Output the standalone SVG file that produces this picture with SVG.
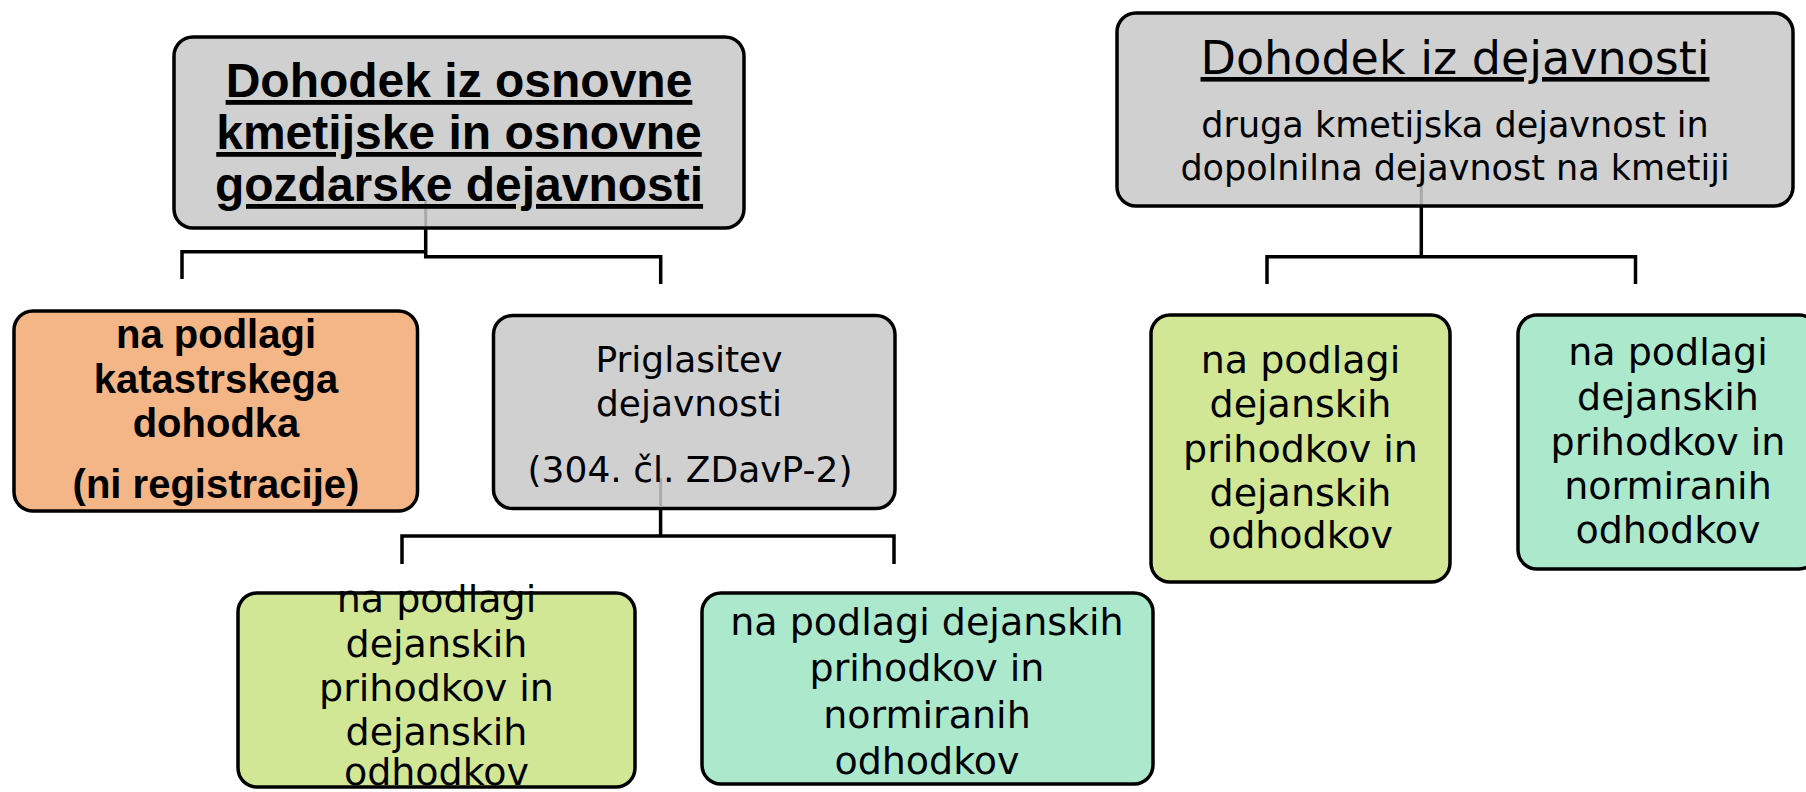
<svg xmlns="http://www.w3.org/2000/svg" width="1806" height="792" viewBox="0 0 1806 792">
<style>
.box{stroke:#000;stroke-width:3.5}
.gray{fill:#d0d0d0}
.orange{fill:#f4b686}
.lime{fill:#d2e796}
.mint{fill:#ace8cc}
.t{font-family:"DejaVu Sans","Liberation Sans",sans-serif;fill:#000;text-anchor:middle}
.b{font-family:"Liberation Sans",Arial,sans-serif;font-weight:bold;fill:#000;text-anchor:middle}
.conn{fill:none;stroke:#000;stroke-width:3.5}
.ghost{fill:none;stroke:#a9a9a9;stroke-width:3}
</style>
<rect width="1806" height="792" fill="#fff"/>
<g id="connectors">
<path class="conn" d="M182,279 V251.7 H425.7"/>
<path class="conn" d="M425.7,228 V256.7 H660.7 V284"/>
<path class="conn" d="M1421.3,206 V256.7"/>
<path class="conn" d="M1267,284 V256.7 H1635.5 V284"/>
<path class="conn" d="M660.6,509 V536"/>
<path class="conn" d="M402,564 V536 H894 V564"/>
</g>
<g id="n-osnovna">
<rect class="box gray" x="174" y="37" width="570" height="191" rx="19"/>
<line class="ghost" x1="425.7" y1="200" x2="425.7" y2="226"/>
<text class="b" font-size="48" text-decoration="underline"><tspan x="459" y="97">Dohodek iz osnovne</tspan><tspan x="459" y="149">kmetijske in osnovne</tspan><tspan x="459" y="201">gozdarske dejavnosti</tspan></text>
</g>
<g id="n-kataster">
<rect class="box orange" x="14" y="311" width="403.5" height="200" rx="19"/>
<text class="b" font-size="40"><tspan x="216" y="348">na podlagi</tspan><tspan x="216" y="393">katastrskega</tspan><tspan x="216" y="437">dohodka</tspan><tspan x="216" y="498">(ni registracije)</tspan></text>
</g>
<g id="n-priglasitev">
<rect class="box gray" x="493.5" y="315.5" width="401.5" height="193" rx="19"/>
<line class="ghost" x1="660.6" y1="478" x2="660.6" y2="507"/>
<text class="t" font-size="36"><tspan x="689" y="372">Priglasitev</tspan><tspan x="689" y="416">dejavnosti</tspan><tspan x="690" y="482">(304. čl. ZDavP-2)</tspan></text>
</g>
<g id="n-dejanski-1">
<rect class="box lime" x="238" y="593" width="397" height="194" rx="19"/>
<text class="t" font-size="38"><tspan x="436.5" y="612">na podlagi</tspan><tspan x="436.5" y="657">dejanskih</tspan><tspan x="436.5" y="701">prihodkov in</tspan><tspan x="436.5" y="745">dejanskih</tspan><tspan x="436.5" y="785">odhodkov</tspan></text>
</g>
<g id="n-normirani-1">
<rect class="box mint" x="702" y="593" width="451" height="191" rx="19"/>
<text class="t" font-size="38"><tspan x="927" y="635">na podlagi dejanskih</tspan><tspan x="927" y="681">prihodkov in</tspan><tspan x="927" y="728">normiranih</tspan><tspan x="927" y="774">odhodkov</tspan></text>
</g>
<g id="n-dejavnost">
<rect class="box gray" x="1117" y="13" width="676" height="193" rx="19"/>
<line class="ghost" x1="1421.3" y1="178" x2="1421.3" y2="204"/>
<text class="t" font-size="46" text-decoration="underline" x="1455" y="74">Dohodek iz dejavnosti</text>
<text class="t" font-size="35"><tspan x="1455" y="137">druga kmetijska dejavnost in</tspan><tspan x="1455" y="180">dopolnilna dejavnost na kmetiji</tspan></text>
</g>
<g id="n-dejanski-2">
<rect class="box lime" x="1151" y="315" width="299" height="267" rx="19"/>
<text class="t" font-size="38"><tspan x="1300.5" y="373">na podlagi</tspan><tspan x="1300.5" y="417">dejanskih</tspan><tspan x="1300.5" y="462">prihodkov in</tspan><tspan x="1300.5" y="506">dejanskih</tspan><tspan x="1300.5" y="548">odhodkov</tspan></text>
</g>
<g id="n-normirani-2">
<rect class="box mint" x="1518" y="315" width="300" height="254" rx="19"/>
<text class="t" font-size="38"><tspan x="1668" y="365">na podlagi</tspan><tspan x="1668" y="410">dejanskih</tspan><tspan x="1668" y="455">prihodkov in</tspan><tspan x="1668" y="499">normiranih</tspan><tspan x="1668" y="543">odhodkov</tspan></text>
</g>
</svg>
